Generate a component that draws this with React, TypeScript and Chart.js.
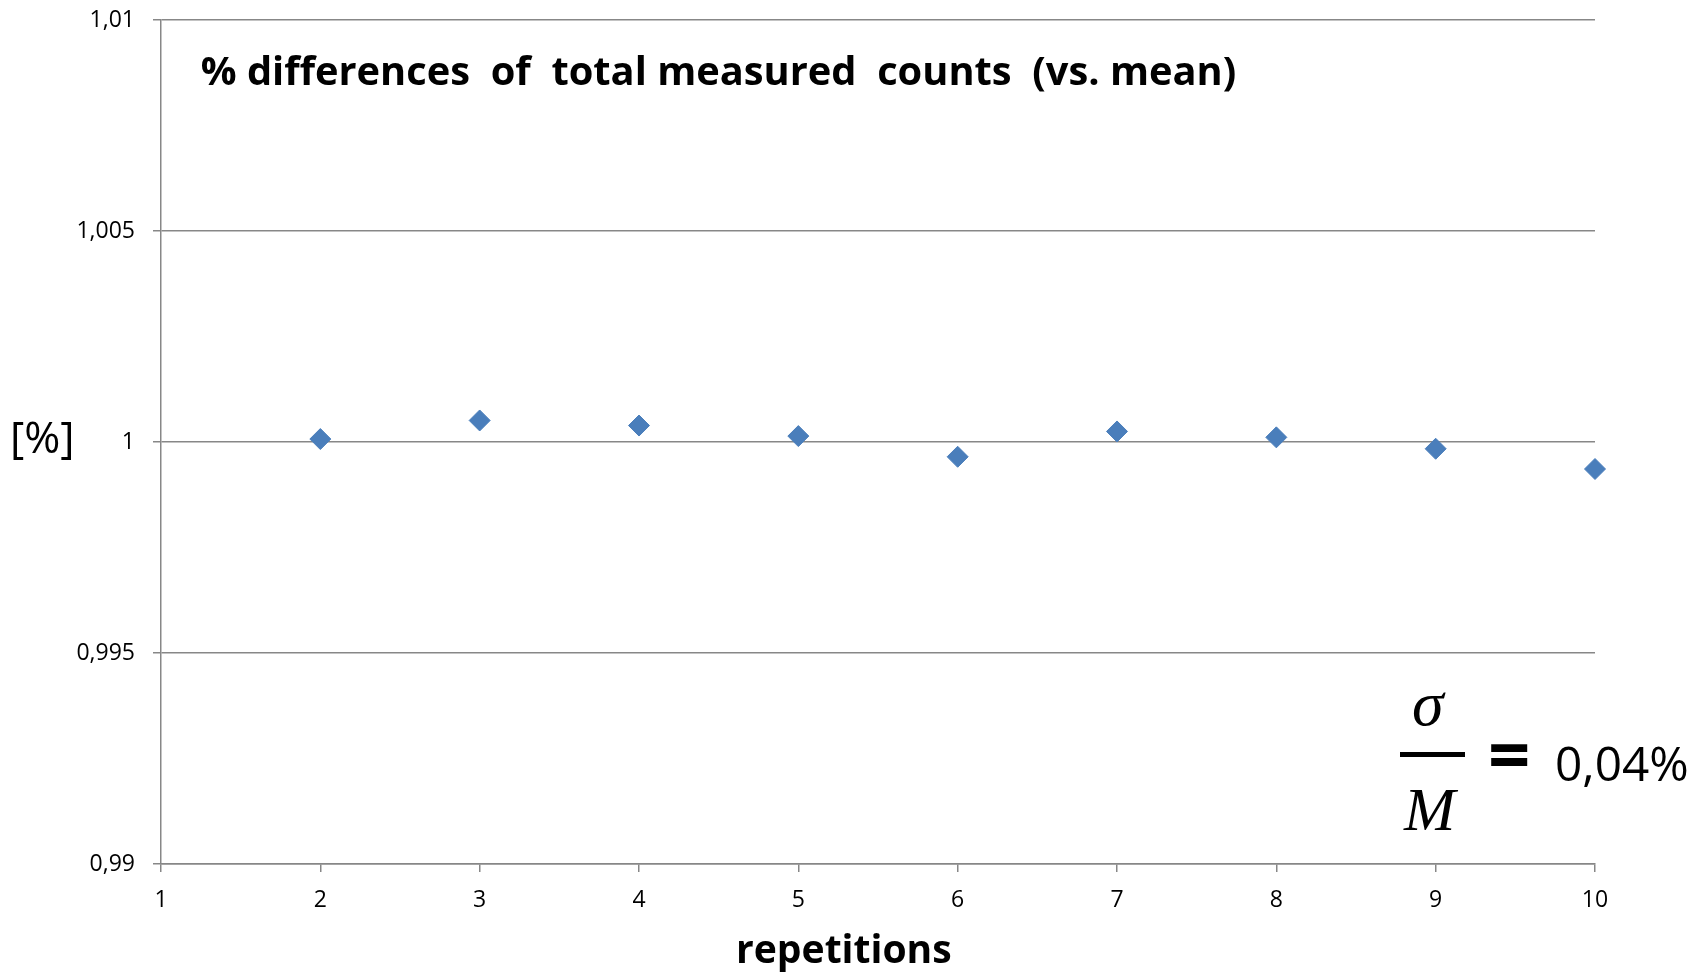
import React, { useEffect, useRef } from "react";
import { Chart, registerables } from "chart.js";

Chart.register(...registerables);

const repetitions = [2, 3, 4, 5, 6, 7, 8, 9, 10];
const ratioValues = [1.00007, 1.00051, 1.00039, 1.00014, 0.99965, 1.00025, 1.00011, 0.99984, 0.99936];
const xTickValues = [1, 2, 3, 4, 5, 6, 7, 8, 9, 10];
const yTickValues = [0.99, 0.995, 1, 1.005, 1.01];
const yTickLabels = ["0,99", "0,995", "1", "1,005", "1,01"];
const chartTitle = "% differences  of  total measured  counts  (vs. mean)";
const xAxisTitle = "repetitions";
const yAxisTitle = "[%]";
const sigmaText = "σ";
const meanText = "M";
const equalsText = "=";
const ratioText = "0,04%";

const SANS = "'Open Sans', 'Noto Sans', sans-serif";
const SERIF = "'Liberation Serif', 'DejaVu Serif', serif";

function fitText(
  ctx: CanvasRenderingContext2D,
  text: string,
  style: string,
  family: string,
  left: number,
  right: number,
  baseline: number
) {
  const base = 40;
  ctx.font = `${style} ${base}px ${family}`;
  let m = ctx.measureText(text);
  const inkW = m.actualBoundingBoxLeft + m.actualBoundingBoxRight;
  const size = (base * (right - left)) / inkW;
  ctx.font = `${style} ${size}px ${family}`;
  m = ctx.measureText(text);
  ctx.textAlign = "left";
  ctx.textBaseline = "alphabetic";
  ctx.fillText(text, left + m.actualBoundingBoxLeft, baseline);
  return m;
}

const annotationPlugin = {
  id: "annotations",
  afterDraw(chart: any) {
    const ctx: CanvasRenderingContext2D = chart.ctx;
    ctx.save();
    ctx.fillStyle = "#000000";
    fitText(ctx, chartTitle, "bold", SANS, 201.7, 1235, 85);
    fitText(ctx, yAxisTitle, "normal", SANS, 13, 71, 453);
    fitText(ctx, xAxisTitle, "bold", SANS, 739, 951, 963);
    fitText(ctx, sigmaText, "italic", SERIF, 1413, 1445, 725);
    fitText(ctx, meanText, "italic", SERIF, 1403, 1460, 830);
    // fraction bar
    ctx.fillRect(1400, 752, 65, 5);
    // equals sign: fit width then center vertically at 755
    {
      const base = 40;
      ctx.font = `bold ${base}px ${SANS}`;
      let m = ctx.measureText(equalsText);
      const inkW = m.actualBoundingBoxLeft + m.actualBoundingBoxRight;
      const size = (base * 39) / inkW;
      ctx.font = `bold ${size}px ${SANS}`;
      m = ctx.measureText(equalsText);
      const mid = (m.actualBoundingBoxAscent - m.actualBoundingBoxDescent) / 2;
      ctx.textBaseline = "alphabetic";
      ctx.fillText(equalsText, 1491 + m.actualBoundingBoxLeft, 755 + mid);
    }
    fitText(ctx, ratioText, "normal", SANS, 1557, 1687, 781);
    ctx.restore();
  },
};

export default function App() {
  const canvasRef = useRef<HTMLCanvasElement | null>(null);

  useEffect(() => {
    let chart: Chart | null = null;
    let cancelled = false;
    const make = () => {
      if (cancelled || !canvasRef.current) return;
      const gridColor = "#878787";
      chart = new Chart(canvasRef.current, {
        type: "scatter",
        data: {
          datasets: [
            {
              data: repetitions.map((x, i) => ({ x, y: ratioValues[i] })),
              pointStyle: "rectRot",
              pointRadius: 10.5,
              pointHoverRadius: 10.5,
              backgroundColor: "#4A7EBB",
              borderColor: "#4A7EBB",
              borderWidth: 1,
              clip: false,
            },
          ],
        },
        options: {
          responsive: false,
          animation: false,
          events: [],
          layout: { padding: { left: 0, right: 113, top: 20, bottom: 0 } },
          plugins: {
            legend: { display: false },
            tooltip: { enabled: false },
            title: { display: false },
          },
          scales: {
            x: {
              type: "linear",
              min: 1,
              max: 10,
              afterBuildTicks: (scale: any) => {
                scale.ticks = xTickValues.map((v) => ({ value: v }));
              },
              afterFit: (scale: any) => {
                scale.height = 109;
                scale.paddingLeft = 0;
                scale.paddingRight = 0;
              },
              grid: {
                drawOnChartArea: false,
                drawTicks: true,
                tickLength: 8,
                color: gridColor,
                lineWidth: 1.5,
              },
              border: { display: true, color: gridColor, width: 1.5 },
              ticks: {
                color: "#000000",
                padding: 15,
                maxRotation: 0,
                autoSkip: false,
                font: { family: SANS, size: 23 },
                callback: (v: any) => String(v),
              },
            },
            y: {
              type: "linear",
              min: 0.99,
              max: 1.01,
              afterBuildTicks: (scale: any) => {
                scale.ticks = yTickValues.map((v) => ({ value: v }));
              },
              afterFit: (scale: any) => {
                scale.width = 161;
                scale.paddingTop = 0;
                scale.paddingBottom = 0;
              },
              grid: {
                drawOnChartArea: true,
                drawTicks: true,
                tickLength: 8,
                color: gridColor,
                lineWidth: 1.5,
              },
              border: { display: true, color: gridColor, width: 1.5 },
              ticks: {
                color: "#000000",
                padding: 18,
                autoSkip: false,
                font: { family: SANS, size: 23 },
                callback: (v: any) => {
                  const idx = yTickValues.findIndex((t) => Math.abs(t - v) < 1e-9);
                  return idx >= 0 ? yTickLabels[idx] : "";
                },
              },
            },
          },
        },
        plugins: [annotationPlugin],
      });
    };
    const fontsToLoad = [
      `23px 'Open Sans'`,
      `bold 40px 'Open Sans'`,
      `italic 40px 'Liberation Serif'`,
    ];
    Promise.all(fontsToLoad.map((f) => (document as any).fonts.load(f)))
      .catch(() => null)
      .then(() => make());
    return () => {
      cancelled = true;
      if (chart) chart.destroy();
    };
  }, []);

  return (
    <div style={{ position: "fixed", left: 0, top: 0, width: 1708, height: 973, background: "#ffffff" }}>
      <canvas ref={canvasRef} width={1708} height={973} style={{ display: "block" }} />
    </div>
  );
}
